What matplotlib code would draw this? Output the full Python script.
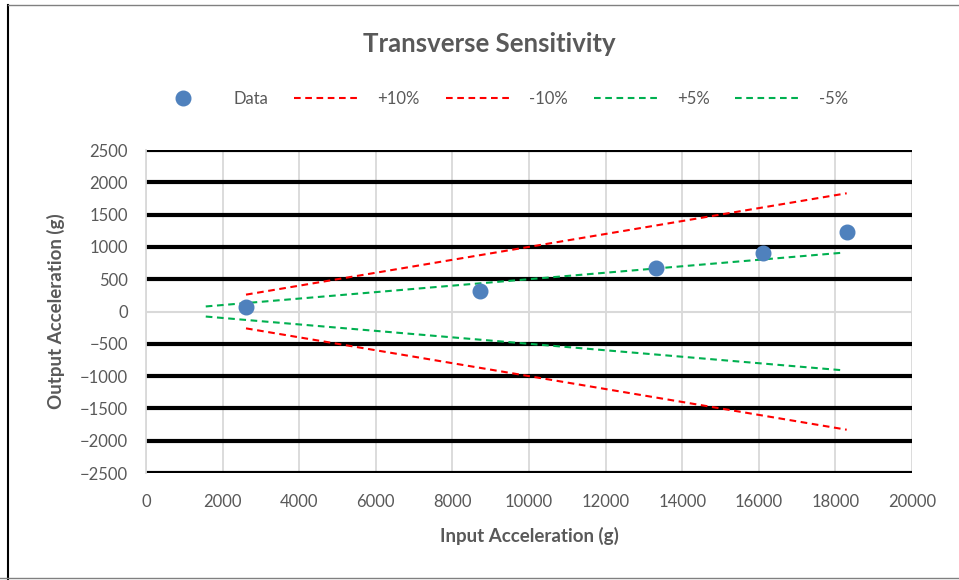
import matplotlib.pyplot as plt
from matplotlib.lines import Line2D

# data
input_acc = [2611, 8720, 13316, 16100, 18295]
output_acc = [77, 325, 666, 909, 1238]

# tolerance lines (end points)
x_10 = [2611, 18295]
y_plus10 = [261, 1830]
y_minus10 = [-261, -1830]
x_5 = [1560, 18150]
y_plus5 = [78, 908]
y_minus5 = [-78, -908]

x_ticks = [0, 2000, 4000, 6000, 8000, 10000, 12000, 14000, 16000, 18000, 20000]
y_ticks = [-2500, -2000, -1500, -1000, -500, 0, 500, 1000, 1500, 2000, 2500]

plt.rcParams['font.family'] = ['Lato', 'DejaVu Sans']
grey = '#595959'

fig = plt.figure(figsize=(9.59, 5.8), dpi=100)
ax = fig.add_axes([146 / 959, 1 - 473 / 580, 766 / 959, 323 / 580])

# gridlines
for xv in x_ticks:
    ax.axvline(xv, color='#d9d9d9', lw=1.3, zorder=0)
for yv in y_ticks:
    if yv == 0:
        ax.axhline(yv, color='#d9d9d9', lw=1.5, zorder=0)
    else:
        ax.axhline(yv, color='black', lw=3, zorder=0.5)

dash = (3.2, 2.2)
ax.plot(input_acc, output_acc, 'o', color='#4f81bd', ms=10.5, label='Data', zorder=3)
ax.plot(x_10, y_plus10, color='#ff0000', lw=1.5, dashes=dash, label='+10%', zorder=2)
ax.plot(x_10, y_minus10, color='#ff0000', lw=1.5, dashes=dash, label='-10%', zorder=2)
ax.plot(x_5, y_plus5, color='#00b050', lw=1.5, dashes=dash, label='+5%', zorder=2)
ax.plot(x_5, y_minus5, color='#00b050', lw=1.5, dashes=dash, label='-5%', zorder=2)

ax.set_xlim(0, 20000)
ax.set_ylim(-2500, 2500)
ax.set_xticks(x_ticks)
ax.set_yticks(y_ticks)
ax.tick_params(axis='x', length=0, labelsize=12, colors=grey, pad=15)
ax.tick_params(axis='y', length=0, labelsize=12, colors=grey, pad=13)
for s in ax.spines.values():
    s.set_visible(False)
ax.spines['left'].set_visible(True)
ax.spines['left'].set_color('#d9d9d9')
ax.spines['left'].set_linewidth(1.3)

ax.set_xlabel('Input Acceleration (g)', fontsize=13.5, fontweight='bold', color=grey, labelpad=12)
ax.set_ylabel('Output Acceleration (g)', fontsize=13.5, fontweight='bold', color=grey, labelpad=11)

fig.text(489 / 959, 1 - 44 / 580, 'Transverse Sensitivity', ha='center', va='center',
         fontsize=18.5, fontweight='bold', color=grey)

leg = fig.legend(loc='center', bbox_to_anchor=(499 / 959, 1 - 99 / 580), ncol=5, frameon=False,
                 fontsize=12, handlelength=4.0, columnspacing=1.55, handletextpad=1.0)
for t in leg.get_texts():
    t.set_color(grey)

# frame lines of the screenshot
fig.add_artist(Line2D([8 / 959, 8 / 959], [0, 1 - 5 / 580], color='black', lw=1.5, transform=fig.transFigure))
fig.add_artist(Line2D([8 / 959, 1], [1 - 5 / 580, 1 - 5 / 580], color='#808080', lw=1, transform=fig.transFigure))
fig.add_artist(Line2D([0, 1], [1 - 578 / 580, 1 - 578 / 580], color='#808080', lw=1, transform=fig.transFigure))

fig.savefig('out.png', dpi=100)
